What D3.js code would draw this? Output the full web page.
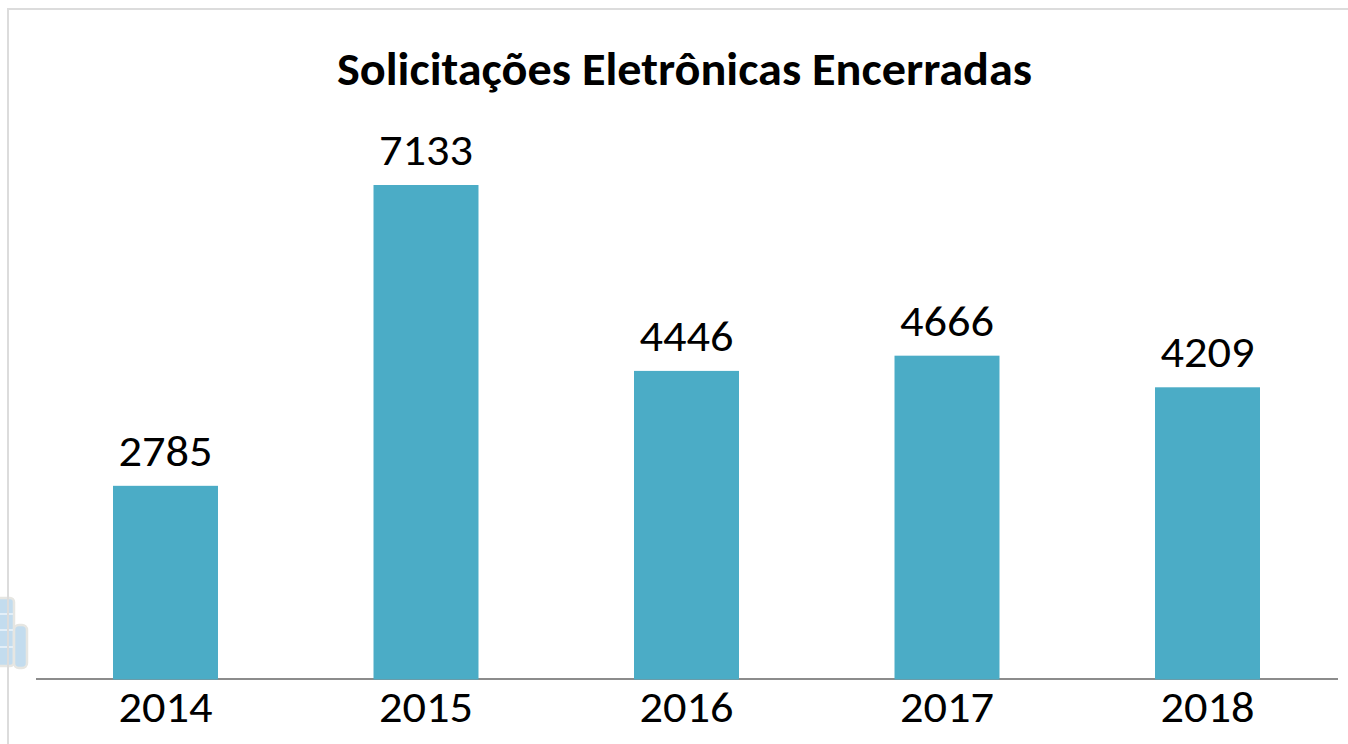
<!doctype html>
<html>
<head>
<meta charset="utf-8">
<title>Solicitações Eletrônicas Encerradas</title>
<script src="https://d3js.org/d3.v7.min.js"></script>
<style>
  html, body { margin: 0; padding: 0; background: #fff; }
  svg { display: block; }
  text { font-family: Carlito, Lato, sans-serif; fill: #000; }
</style>
</head>
<body>
<svg></svg>
<script>
var years = ['2014', '2015', '2016', '2017', '2018'];
var values = [2785, 7133, 4446, 4666, 4209];
var title = 'Solicitações Eletrônicas Encerradas';

var w = 1348, h = 744;
var baseline = 678.5;

var svg = d3.select('svg').attr('width', w).attr('height', h);

// faded icon sitting behind the left edge of the frame
var icon = svg.append('g').attr('fill', '#c3dcee').attr('stroke', '#e6e6e2').attr('stroke-width', 2.5);
icon.append('rect').attr('x', -6).attr('y', 598).attr('width', 20).attr('height', 68).attr('rx', 4);
icon.append('rect').attr('x', 14).attr('y', 625).attr('width', 13).attr('height', 43).attr('rx', 5);
svg.append('path')
    .attr('d', 'M0,614H13M0,630H13M0,647H13')
    .attr('stroke', '#e3eff8')
    .attr('stroke-width', 2);

// chart frame, only top and left are visible in the crop
svg.append('path')
    .attr('d', 'M8,744V9H1348')
    .attr('fill', 'none')
    .attr('stroke', '#dcdcdc')
    .attr('stroke-width', 2);

var x = d3.scaleBand()
    .domain(years)
    .range([35.5, 1337.5])
    .paddingInner(0.597)
    .paddingOuter(0.2975);

var y = d3.scaleLinear()
    .domain([0, 7133])
    .range([baseline, 185]);

var axis = svg.append('g')
    .attr('transform', 'translate(0,' + baseline + ')')
    .call(d3.axisBottom(x).tickSize(0).tickPadding(13));
axis.select('.domain').attr('stroke', '#8c8c8c').attr('stroke-width', 2);
axis.selectAll('text')
    .style('font-size', '44px')
    .attr('dy', '0.69em')
    .attr('textLength', 94)
    .attr('lengthAdjust', 'spacingAndGlyphs');

svg.selectAll('rect.bar')
    .data(values)
    .enter()
    .append('rect')
    .attr('class', 'bar')
    .attr('x', function(d, i) { return x(years[i]); })
    .attr('y', function(d) { return y(d); })
    .attr('width', x.bandwidth())
    .attr('height', function(d) { return baseline - y(d) + 1; })
    .attr('fill', '#4bacc6');

svg.selectAll('text.val')
    .data(values)
    .enter()
    .append('text')
    .attr('class', 'val')
    .attr('x', function(d, i) { return x(years[i]) + x.bandwidth() / 2; })
    .attr('y', function(d) { return y(d) - 20; })
    .attr('text-anchor', 'middle')
    .attr('textLength', 94)
    .attr('lengthAdjust', 'spacingAndGlyphs')
    .style('font-size', '44px')
    .text(function(d) { return d; });

svg.append('text')
    .attr('x', 684.5)
    .attr('y', 85)
    .attr('text-anchor', 'middle')
    .attr('textLength', 695)
    .attr('lengthAdjust', 'spacingAndGlyphs')
    .style('font-size', '46px')
    .style('font-weight', 'bold')
    .text(title);
</script>
</body>
</html>
